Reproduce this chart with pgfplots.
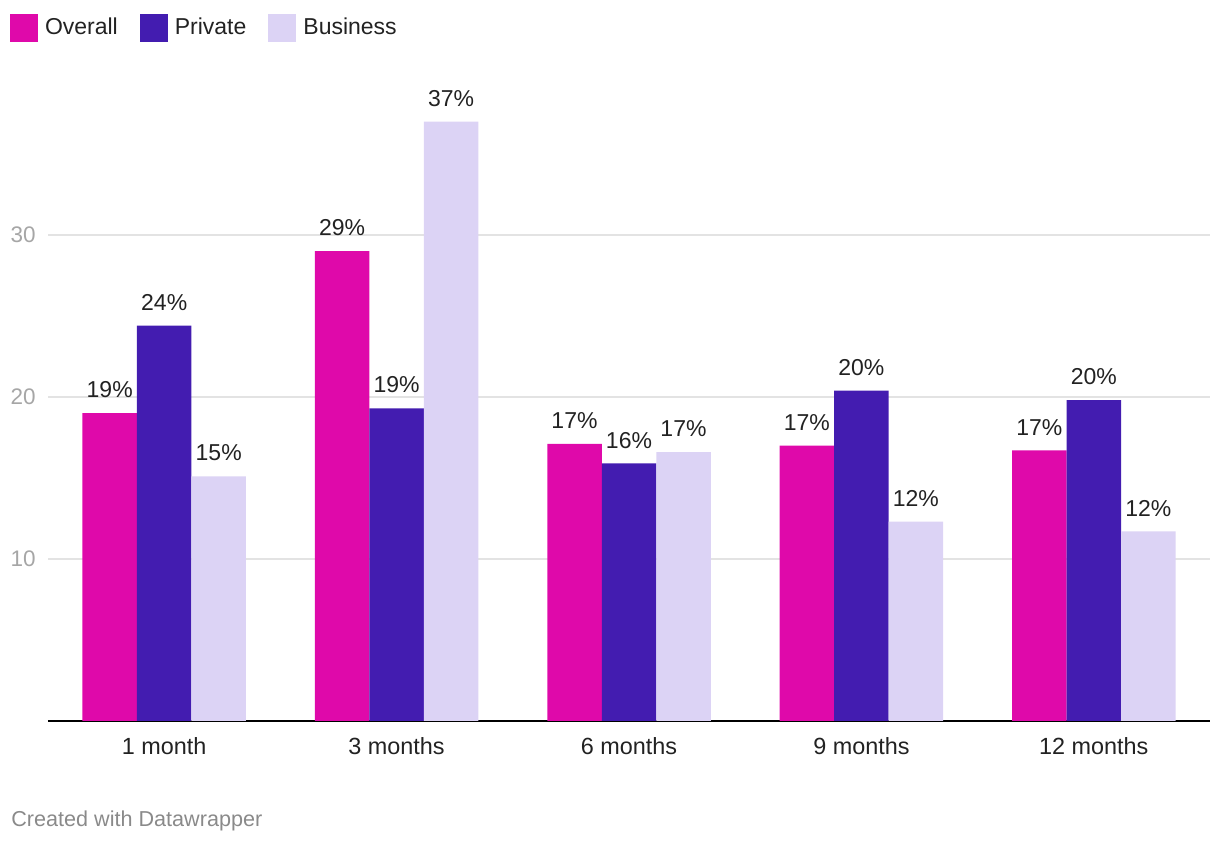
\documentclass[border=0pt]{standalone}
\usepackage{fontspec}
\setmainfont{Liberation Sans}
\usepackage{pgfplots}
\pgfplotsset{compat=1.18}
\definecolor{cOverall}{HTML}{DF09AA}
\definecolor{cPrivate}{HTML}{431CB0}
\definecolor{cBusiness}{HTML}{DCD3F5}
\definecolor{gridc}{HTML}{E3E3E3}
\definecolor{tickc}{HTML}{A6A6A6}
\definecolor{txt}{HTML}{222222}
\definecolor{foot}{HTML}{8A8A8A}
\begin{document}
\begin{tikzpicture}[x=1pt,y=1pt]
\path[use as bounding box] (0,0) rectangle (610,422);
\begin{axis}[
  at={(24pt,61.5pt)}, anchor=south west,
  scale only axis, width=581pt, height=324pt,
  xmin=-0.5, xmax=4.5, ymin=0, ymax=40,
  clip=false,
  ybar=0pt, bar width=27.25pt,
  axis line style={draw=none},
  tick style={draw=none},
  major tick length=0pt,
  xtick={0,1,2,3,4},
  xticklabels={1 month, 3 months, 6 months, 9 months, 12 months},
  xticklabel style={font=\fontsize{11.7}{13}\selectfont, text=txt, anchor=north, inner sep=0pt, text height=8pt, yshift=-8.5pt},
  ytick={10,20,30},
  yticklabel style={font=\fontsize{11.25}{13}\selectfont, text=tickc, anchor=east, inner sep=0pt, text depth=0pt, xshift=-6pt},
  /pgf/number format/assume math mode=true,
  ymajorgrids, major grid style={color=gridc, line width=0.9pt},
  extra y ticks={0}, extra y tick labels={},
  extra y tick style={ymajorgrids=true, major grid style={color=black, line width=0.85pt}},
  point meta=explicit symbolic,
  nodes near coords={\pgfplotspointmeta\%},
  every node near coord/.append style={font=\fontsize{11.5}{13}\selectfont, text=txt, anchor=south, inner sep=0pt, text depth=0pt, yshift=7.5pt},
  legend columns=3,
  legend cell align=left,
  legend style={at={(rel axis cs:0,1)}, anchor=north west, xshift=-19pt, yshift=29.5pt,
    draw=none, fill=none, inner sep=0pt, outer sep=0pt,
    font=\fontsize{11.5}{13}\selectfont, text=txt,
    /tikz/every odd column/.append style={column sep=3.5pt},
    /tikz/every even column/.append style={column sep=11pt},
    nodes={inner sep=0pt, yshift=3.5pt}},
  legend image code/.code={\fill[#1] (0pt,-3.5pt) rectangle (14pt,10.5pt);},
]
\addplot[fill=cOverall, draw=none] coordinates {(0,19.0) [19] (1,29.0) [29] (2,17.1) [17] (3,17.0) [17] (4,16.7) [17]};
\addplot[fill=cPrivate, draw=none] coordinates {(0,24.4) [24] (1,19.3) [19] (2,15.9) [16] (3,20.4) [20] (4,19.8) [20]};
\addplot[fill=cBusiness, draw=none] coordinates {(0,15.1) [15] (1,37.0) [37] (2,16.6) [17] (3,12.3) [12] (4,11.7) [12]};
\legend{Overall, Private, Business}
\end{axis}
\node[anchor=base west, font=\fontsize{10.8}{13}\selectfont, text=foot, inner sep=0pt] at (5.5,8.5) {Created with Datawrapper};
\end{tikzpicture}
\end{document}
